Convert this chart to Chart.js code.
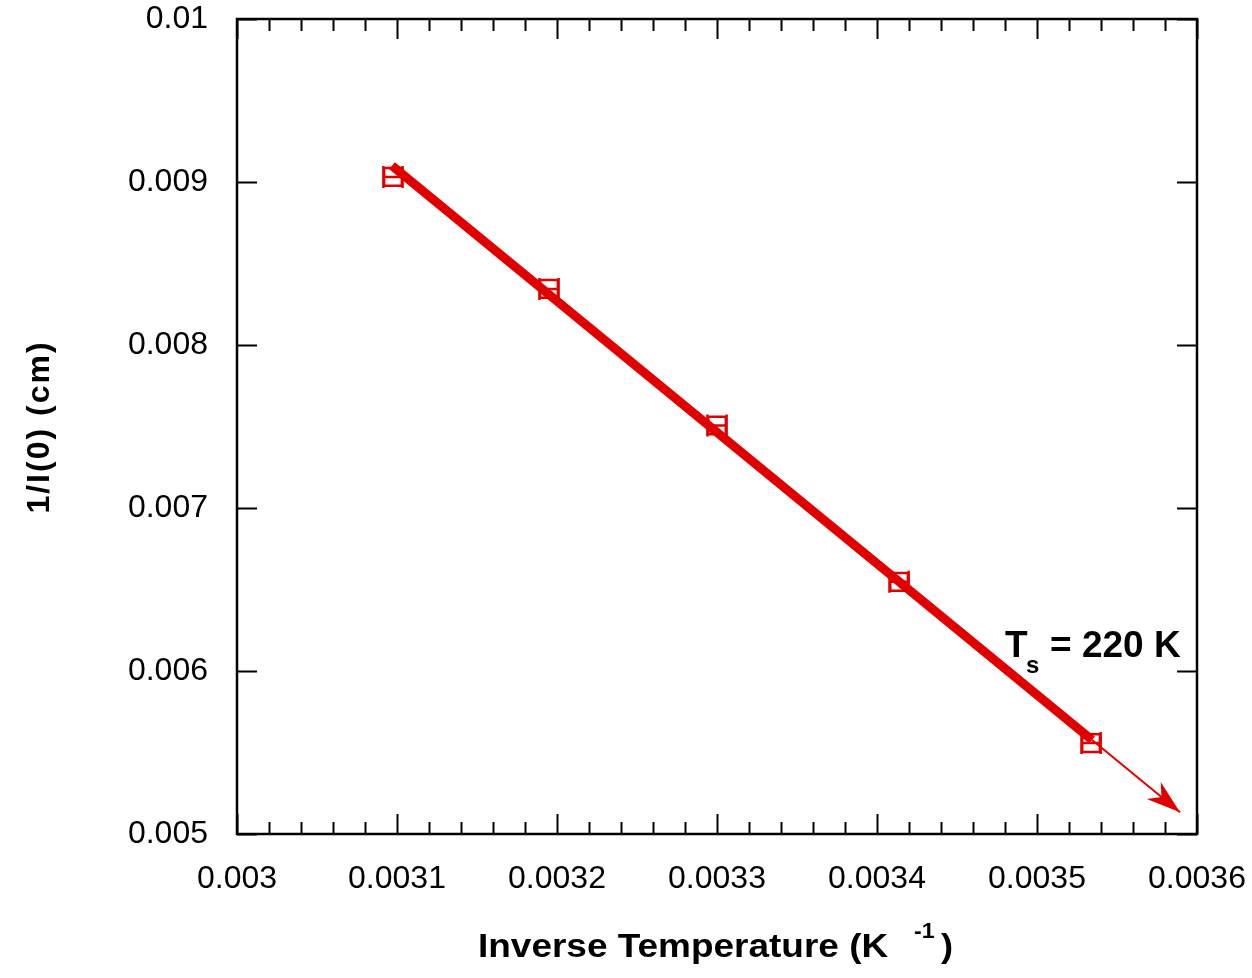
<!DOCTYPE html>
<html>
<head>
<meta charset="utf-8">
<script src="https://cdn.jsdelivr.net/npm/chart.js@4.4.1/dist/chart.umd.min.js"></script>
<style>
  html, body { margin: 0; padding: 0; background: #fff; }
  #wrap { width: 1252px; height: 978px; }
</style>
</head>
<body>
<div id="wrap"><canvas id="plot" width="1252" height="978"></canvas></div>
<script>
// data
const invTemp = [0.0030975, 0.003195, 0.0033, 0.0034138, 0.0035338];
const invLength = [0.009031, 0.008344, 0.007506, 0.006547, 0.005558];
const xErr = [0.000006, 0.000006, 0.000006, 0.000006, 0.000006];

// fitted line (thick) and its extrapolation (thin arrow)
const fitX = [0.0030969, 0.0035344];
const fitY = [0.0091002, 0.0055765];
const arrowX = [0.0035344, 0.0035894];
const arrowY = [0.0055765, 0.005134];

const xTickVals = [0.003, 0.0031, 0.0032, 0.0033, 0.0034, 0.0035, 0.0036];
const yTickVals = [0.005, 0.006, 0.007, 0.008, 0.009, 0.01];

const RED = '#e10000';
const FONT = '"Liberation Sans", Arial, Helvetica, sans-serif';

function pts(xs, ys) { return xs.map((x, i) => ({ x: x, y: ys[i] })); }
function fmt(v) { return parseFloat(v.toFixed(6)).toString(); }

// frame + inward ticks on all 4 sides
const framePlugin = {
    id: 'frame',
    beforeDatasetsDraw(chart) {
        const { ctx, chartArea: a, scales } = chart;
        const xs = scales.x, ys = scales.y;
        ctx.save();
        ctx.strokeStyle = '#000';
        ctx.lineWidth = 2.5;
        ctx.strokeRect(a.left, a.top, a.right - a.left, a.bottom - a.top);
        ctx.lineWidth = 2;
        ctx.beginPath();
        for (let i = 0; i <= 30; i++) {
            const v = 0.003 + i * 0.00002;
            const px = Math.round(xs.getPixelForValue(v)) + 0.5;
            const len = (i % 5 === 0) ? 20 : 12;
            ctx.moveTo(px, a.bottom); ctx.lineTo(px, a.bottom - len);
            ctx.moveTo(px, a.top); ctx.lineTo(px, a.top + len);
        }
        yTickVals.forEach(v => {
            const py = Math.round(ys.getPixelForValue(v)) + 0.5;
            ctx.moveTo(a.left, py); ctx.lineTo(a.left + 20, py);
            ctx.moveTo(a.right, py); ctx.lineTo(a.right - 20, py);
        });
        ctx.stroke();
        ctx.restore();
    }
};

// x error bars on the squares
const errPlugin = {
    id: 'errbars',
    afterDatasetsDraw(chart) {
        const { ctx, scales } = chart;
        ctx.save();
        ctx.strokeStyle = RED;
        ctx.lineWidth = 2.5;
        invTemp.forEach((x, i) => {
            const py = scales.y.getPixelForValue(invLength[i]);
            const x0 = scales.x.getPixelForValue(x - xErr[i]);
            const x1 = scales.x.getPixelForValue(x + xErr[i]);
            ctx.beginPath();
            ctx.moveTo(x0, py); ctx.lineTo(x1, py);
            ctx.moveTo(x0, py - 11); ctx.lineTo(x0, py + 11);
            ctx.moveTo(x1, py - 11); ctx.lineTo(x1, py + 11);
            ctx.stroke();
        });
        ctx.restore();
    }
};

// draws text stretched horizontally (the original font is wider than Liberation)
function wideText(ctx, txt, x, y, font, sx) {
    ctx.save();
    ctx.font = font;
    ctx.translate(x, y);
    ctx.scale(sx, 1);
    ctx.fillText(txt, 0, 0);
    const w = ctx.measureText(txt).width * sx;
    ctx.restore();
    return w;
}

// arrow head, axis titles, annotation
const textPlugin = {
    id: 'texts',
    afterDraw(chart) {
        const { ctx, scales } = chart;
        ctx.save();
        const ax = scales.x.getPixelForValue(arrowX[0]), ay = scales.y.getPixelForValue(arrowY[0]);
        const tx = scales.x.getPixelForValue(arrowX[1]), ty = scales.y.getPixelForValue(arrowY[1]);
        const ang = Math.atan2(ty - ay, tx - ax);
        ctx.translate(tx, ty);
        ctx.rotate(ang);
        ctx.fillStyle = RED;
        ctx.beginPath();
        ctx.moveTo(0, 0);
        ctx.lineTo(-34, -11);
        ctx.lineTo(-24, 0);
        ctx.lineTo(-34, 11);
        ctx.closePath();
        ctx.fill();
        ctx.restore();

        ctx.save();
        ctx.fillStyle = '#000';
        ctx.textBaseline = 'alphabetic';
        ctx.textAlign = 'left';
        // x title
        wideText(ctx, 'Inverse Temperature (K', 478, 957, 'bold 33px ' + FONT, 1.12);
        wideText(ctx, '-1', 914, 938, 'bold 22px ' + FONT, 1.05);
        wideText(ctx, ')', 941, 957, 'bold 33px ' + FONT, 1.1);

        // annotation
        wideText(ctx, 'T', 1005, 657, 'bold 37px ' + FONT, 1.0);
        wideText(ctx, 's', 1026, 673, 'bold 24px ' + FONT, 1.0);
        wideText(ctx, '= 220 K', 1050, 657, 'bold 37px ' + FONT, 1.0);

        // y title
        ctx.translate(49, 427);
        ctx.rotate(-Math.PI / 2);
        ctx.textAlign = 'center';
        ctx.font = 'bold 32px ' + FONT;
        ctx.letterSpacing = '2px';
        ctx.fillText('1/I(0) (cm)', 0, 0);
        ctx.restore();
    }
};

const ctx = document.getElementById('plot').getContext('2d');
const chart = new Chart(ctx, {
    type: 'scatter',
    data: {
        datasets: [
            {   // thick fit line
                data: pts(fitX, fitY),
                showLine: true,
                borderColor: RED,
                borderWidth: 9,
                pointRadius: 0,
                borderCapStyle: 'butt'
            },
            {   // thin extrapolation
                data: pts(arrowX, arrowY),
                showLine: true,
                borderColor: RED,
                borderWidth: 2,
                pointRadius: 0
            },
            {   // measured points
                data: pts(invTemp, invLength),
                pointStyle: 'rect',
                pointRadius: 12.5,
                borderColor: RED,
                borderWidth: 2.5,
                backgroundColor: 'rgba(0,0,0,0)'
            }
        ]
    },
    options: {
        responsive: false,
        animation: false,
        events: [],
        layout: { padding: { top: 19, right: 55, left: 0, bottom: 0 } },
        plugins: {
            legend: { display: false },
            tooltip: { enabled: false }
        },
        scales: {
            x: {
                type: 'linear',
                min: 0.003,
                max: 0.0036,
                grid: { display: false, drawTicks: false },
                border: { display: false },
                afterBuildTicks: s => { s.ticks = xTickVals.map(v => ({ value: v })); },
                afterFit: s => {
                    s.height = 978 - 834;
                    s.paddingLeft = 0; s.paddingRight = 0;
                },
                ticks: {
                    padding: 26,
                    autoSkip: false,
                    maxRotation: 0,
                    color: '#000',
                    font: { family: FONT, size: 32 },
                    callback: v => fmt(v)
                }
            },
            y: {
                type: 'linear',
                min: 0.005,
                max: 0.01,
                grid: { display: false, drawTicks: false },
                border: { display: false },
                afterBuildTicks: s => { s.ticks = yTickVals.map(v => ({ value: v })); },
                afterFit: s => {
                    s.width = 237;
                    s.paddingTop = 0; s.paddingBottom = 0;
                },
                ticks: {
                    padding: 29,
                    autoSkip: false,
                    color: '#000',
                    font: { family: FONT, size: 32 },
                    callback: v => fmt(v)
                }
            }
        }
    },
    plugins: [framePlugin, errPlugin, textPlugin]
});
</script>
</body>
</html>
